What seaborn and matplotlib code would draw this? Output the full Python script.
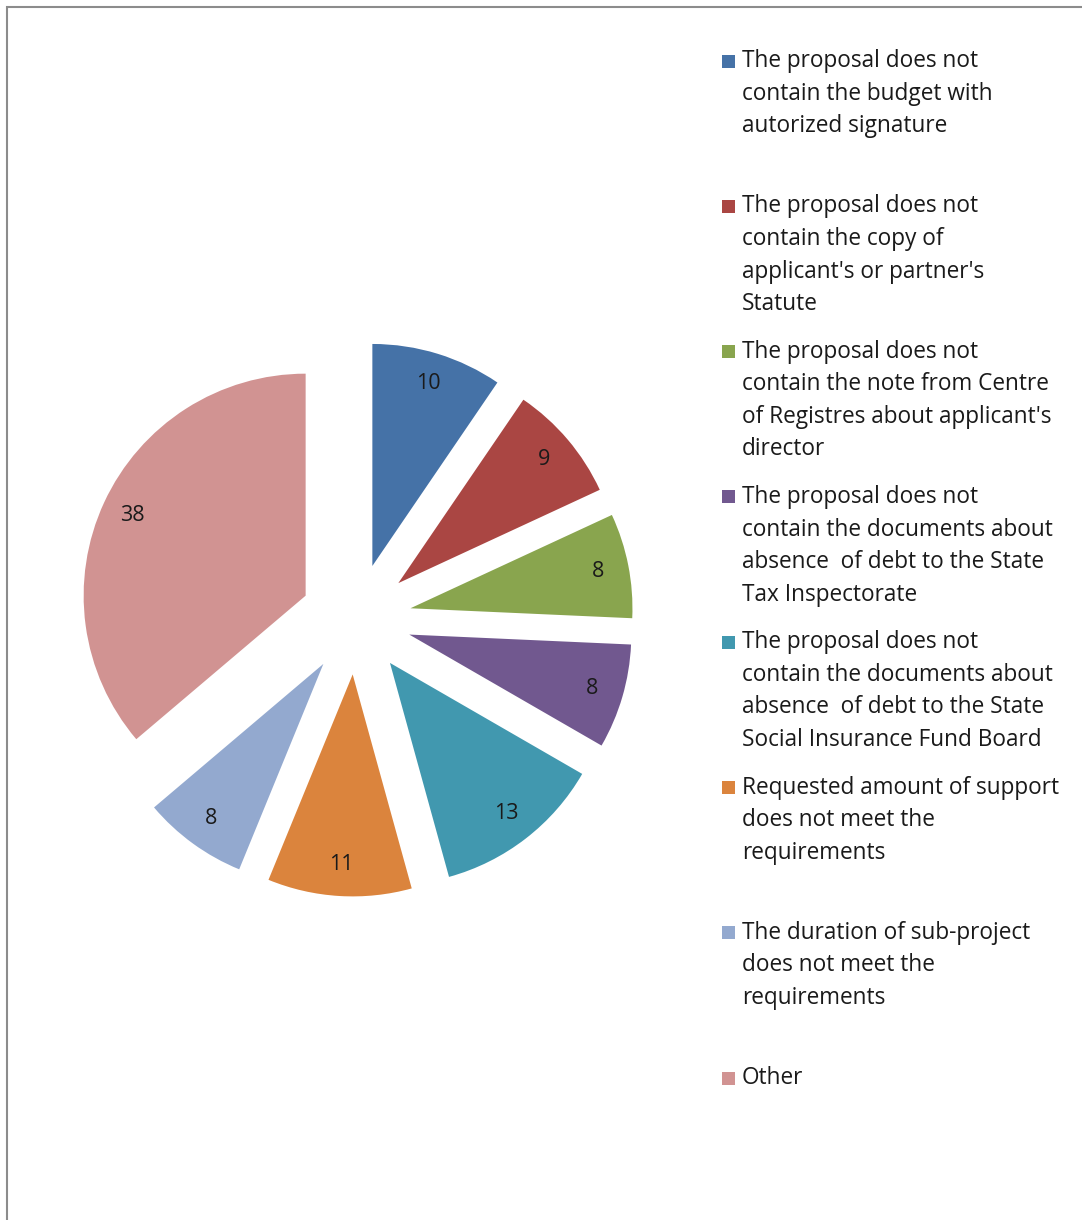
import matplotlib
matplotlib.use("Agg")
import matplotlib.pyplot as plt
import seaborn as sns
from matplotlib.patches import Rectangle

# === DATA ===
reasons = [
    "The proposal does not\ncontain the budget with\nautorized signature",
    "The proposal does not\ncontain the copy of\napplicant's or partner's\nStatute",
    "The proposal does not\ncontain the note from Centre\nof Registres about applicant's\ndirector",
    "The proposal does not\ncontain the documents about\nabsence  of debt to the State\nTax Inspectorate",
    "The proposal does not\ncontain the documents about\nabsence  of debt to the State\nSocial Insurance Fund Board",
    "Requested amount of support\ndoes not meet the\nrequirements",
    "The duration of sub-project\ndoes not meet the\nrequirements",
    "Other",
]
counts = [10, 9, 8, 8, 13, 11, 8, 38]
colors = ["#4572A7", "#AA4643", "#89A54E", "#71588F",
          "#4198AF", "#DB843D", "#93A9CF", "#D19392"]

sns.set_style("white")
plt.rcParams["font.family"] = ["Open Sans", "DejaVu Sans"]

W, H = 1082, 1220
fig = plt.figure(figsize=(W / 100, H / 100), dpi=100)

# frame around the chart area
fig.patches.append(Rectangle((7 / W, -0.1), 1.2, (H - 7) / H + 0.1,
                             transform=fig.transFigure, fill=False,
                             edgecolor="#8c8c8c", linewidth=1.5))

# pie axes: centre (356, 619) px, radius 222 px
cx, cy, r = 356, 619, 222
half = 1.4 * r
ax = fig.add_axes([(cx - half) / W, (H - cy - half) / H, 2 * half / W, 2 * half / H])
total = sum(counts)
ax.pie(counts, colors=colors, startangle=90, counterclock=False,
       explode=[0.25] * len(counts), radius=1,
       autopct=lambda p: f"{round(p * total / 100)}", pctdistance=0.86,
       wedgeprops={"linewidth": 0},
       textprops={"fontsize": 15.5, "color": "#1a1a1a"})
ax.set_xlim(-1.4, 1.4)
ax.set_ylim(-1.4, 1.4)
ax.set_aspect("equal")
ax.axis("off")

# legend, Excel style: equal spacing, text top aligned
first_y = 61
step = 145.3
line_h = 32.6
for i, (lab, col) in enumerate(zip(reasons, colors)):
    y0 = first_y + i * step
    fig.patches.append(Rectangle((722 / W, (H - y0 - 6.5) / H), 13 / W, 13 / H,
                                 transform=fig.transFigure, facecolor=col,
                                 edgecolor="none"))
    for j, line in enumerate(lab.split("\n")):
        fig.text(742 / W, (H - y0 - j * line_h) / H, line, fontsize=16.3,
                 color="#1a1a1a", va="center", ha="left")

fig.savefig("out.png", dpi=100)
